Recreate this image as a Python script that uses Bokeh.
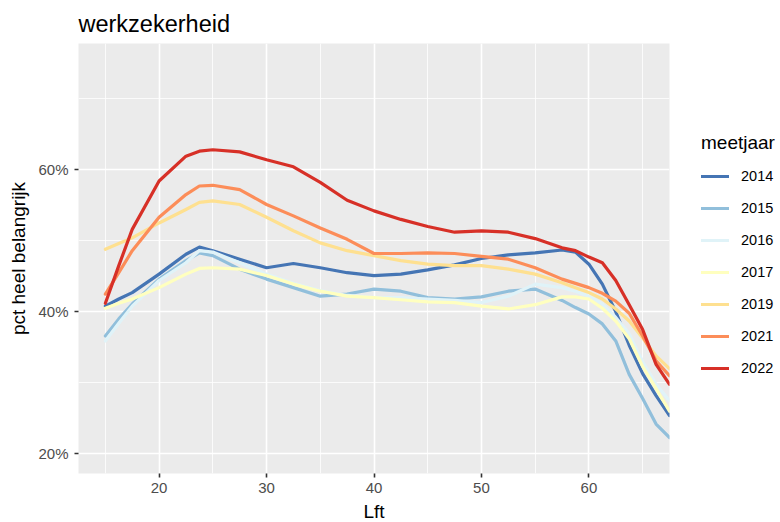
from bokeh.plotting import figure
from bokeh.models import Legend, LegendItem, FixedTicker, PrintfTickFormatter, Range1d, ColumnDataSource
from bokeh.embed import file_html
from bokeh.resources import INLINE

# Age (Lft)
lft = [15, 16.25, 17.5, 20, 22.5, 23.75, 25, 27.5, 30, 32.5, 35, 37.5, 40, 42.5, 45, 47.5,
       50, 52.5, 55, 57.5, 58.75, 60, 61.25, 62.5, 63.75, 65, 66.25, 67.5]

# pct heel belangrijk per meetjaar
y2014 = [40.8, 41.8, 42.7, 45.3, 48.1, 49.1, 48.6, 47.4, 46.2, 46.8, 46.2, 45.5, 45.1, 45.3, 45.9, 46.6,
         47.5, 48.0, 48.3, 48.7, 48.4, 46.7, 43.9, 40.0, 35.3, 31.3, 28.2, 25.4]
y2015 = [36.6, 39.0, 41.1, 44.6, 47.2, 48.3, 47.9, 46.0, 44.6, 43.4, 42.2, 42.5, 43.2, 42.9, 42.0, 41.8,
         42.1, 42.9, 43.2, 41.6, 40.6, 39.7, 38.3, 35.9, 31.2, 27.8, 24.2, 22.3]
y2016 = [35.9, 38.4, 40.8, 44.4, 46.9, 48.6, 48.4, 46.9, 45.3, 44.0, 43.0, 42.3, 42.0, 42.0, 41.8, 41.6,
         41.3, 42.2, 43.9, 43.4, 42.9, 42.2, 41.1, 39.2, 36.9, 33.0, 29.8, 27.5]
y2017 = [40.5, 41.2, 41.8, 43.4, 45.3, 46.1, 46.2, 46.0, 45.1, 43.9, 42.9, 42.2, 42.0, 41.7, 41.4, 41.3,
         40.8, 40.4, 41.0, 42.1, 42.1, 41.8, 40.5, 38.7, 36.2, 32.3, 29.2, 26.0]
y2019 = [48.8, 49.6, 50.4, 52.5, 54.4, 55.4, 55.6, 55.1, 53.3, 51.4, 49.7, 48.6, 47.9, 47.2, 46.7, 46.5,
         46.5, 46.0, 45.3, 44.1, 43.4, 42.7, 41.8, 40.4, 38.7, 36.3, 33.8, 32.0]
y2021 = [42.5, 45.5, 48.6, 53.3, 56.5, 57.7, 57.8, 57.2, 55.1, 53.5, 51.8, 50.2, 48.2, 48.2, 48.3, 48.2,
         47.8, 47.4, 46.2, 44.6, 44.0, 43.4, 42.6, 41.5, 39.8, 36.6, 33.1, 31.0]
y2022 = [41.2, 46.5, 51.6, 58.4, 61.9, 62.6, 62.8, 62.5, 61.4, 60.4, 58.2, 55.7, 54.2, 53.0, 52.0, 51.2,
         51.4, 51.2, 50.3, 49.0, 48.6, 47.7, 46.9, 44.4, 41.0, 37.5, 32.6, 29.8]

years = ["2014", "2015", "2016", "2017", "2019", "2021", "2022"]
series = [y2014, y2015, y2016, y2017, y2019, y2021, y2022]
colors = ["#4575B4", "#91BFDB", "#E0F3F8", "#FFFFBF", "#FEE090", "#FC8D59", "#D73027"]

x_ticks = [20, 30, 40, 50, 60]
x_minor = [15, 25, 35, 45, 55, 65]
y_ticks = [20, 40, 60]
y_minor = [30, 50, 70]

FONT = "Liberation Sans"

p = figure(frame_width=591, frame_height=430,
           x_range=Range1d(12.5, 67.5), y_range=Range1d(17.25, 77.75),
           output_backend="svg", toolbar_location=None,
           min_border_left=78, min_border_right=111, min_border_top=43, min_border_bottom=49,
           title="werkzekerheid")
p.background_fill_color = "#EBEBEB"
p.border_fill_color = "white"
p.outline_line_color = None

p.title.text_font = FONT
p.title.text_font_size = "23.5px"
p.title.text_font_style = "normal"
p.title.text_color = "black"
p.title.align = "left"
p.title.vertical_align = "top"
p.title.standoff = 9

xt = FixedTicker(ticks=x_ticks, minor_ticks=x_minor)
yt = FixedTicker(ticks=y_ticks, minor_ticks=y_minor)
p.xaxis.ticker = xt
p.yaxis.ticker = yt
p.xgrid.ticker = xt
p.ygrid.ticker = yt
for g in (p.xgrid, p.ygrid):
    g.grid_line_color = "white"
    g.grid_line_width = 1.6
    g.minor_grid_line_color = "white"
    g.minor_grid_line_width = 0.8

p.yaxis.formatter = PrintfTickFormatter(format="%d%%")
for ax in (p.xaxis, p.yaxis):
    ax.axis_line_color = None
    ax.major_tick_line_color = "#333333"
    ax.major_tick_line_width = 1.6
    ax.major_tick_out = 4
    ax.major_tick_in = 0
    ax.minor_tick_line_color = None
    ax.major_label_text_font = FONT
    ax.major_label_text_font_size = "15px"
    ax.major_label_text_color = "#4D4D4D"
    ax.axis_label_text_font = FONT
    ax.axis_label_text_font_size = "19px"
    ax.axis_label_text_font_style = "normal"
    ax.axis_label_text_color = "black"
p.xaxis.axis_label = "Lft"
p.yaxis.axis_label = "pct heel belangrijk"
p.xaxis.major_label_standoff = 5
p.yaxis.major_label_standoff = 6
p.xaxis.axis_label_standoff = 5
p.yaxis.axis_label_standoff = 6

items = []
for yr, ys, c in zip(years, series, colors):
    src = ColumnDataSource(dict(x=lft, y=ys))
    r = p.line("x", "y", source=src, line_color=c, line_width=3.2, line_join="round", line_cap="round")
    items.append(LegendItem(label=yr, renderers=[r]))

legend = Legend(items=items, title="meetjaar", location=(32, 89))
legend.border_line_color = None
legend.background_fill_alpha = 0
legend.padding = 0
legend.margin = 0
legend.spacing = 0
legend.glyph_width = 28
legend.glyph_height = 32
legend.label_standoff = 12
legend.label_text_font = FONT
legend.label_text_font_size = "14.5px"
legend.label_text_color = "black"
legend.title_text_font = FONT
legend.title_text_font_size = "19px"
legend.title_text_font_style = "normal"
legend.title_text_color = "black"
legend.title_standoff = 6
p.add_layout(legend, "right")

open("out.html", "w").write(file_html(p, INLINE))
